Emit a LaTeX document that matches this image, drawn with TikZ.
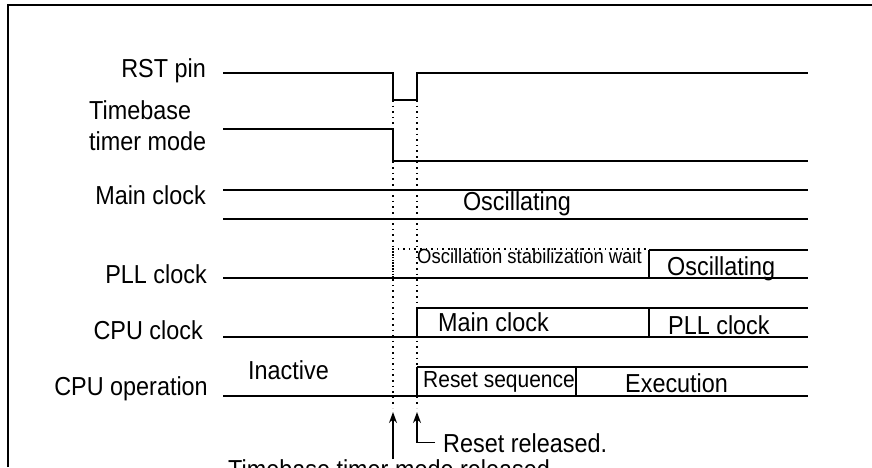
\documentclass[tikz,border=0pt]{standalone}
\usepackage{fontspec}
\setmainfont{Liberation Sans}[FakeStretch=0.9]
\usetikzlibrary{arrows.meta}
\begin{document}
\begin{tikzpicture}[
    x=1pt, y=-1pt,
    sig/.style={line width=2.2pt},
    edge/.style={line width=1.3pt},
    guide/.style={line width=1.6pt, dash pattern=on 1.6pt off 4pt},
    lbl/.style={inner sep=0pt, font=\fontsize{26}{31}\selectfont},
    small/.style={inner sep=0pt, font=\fontsize{20.5}{24}\selectfont},
    arr/.style={line width=1.4pt, -{Stealth[length=11pt, width=8pt]}}
]
\useasboundingbox (0,0) rectangle (872,467);
\draw[line width=2.5pt] (8,467) -- (8,5) -- (872,5);

\node[lbl, anchor=base east] (rst) at (206,77) {RST pin};
\node[lbl, anchor=north west, align=left] (tbm) at (89,100) {Timebase\\timer mode};
\node[lbl, anchor=base east] (mainclk) at (206,204) {Main clock};
\node[lbl, anchor=base east] (pllclk) at (207,283) {PLL clock};
\node[lbl, anchor=base east] (cpuclk) at (203,339) {CPU clock};
\node[lbl, anchor=base east] (cpuop) at (208,395) {CPU operation};

\draw[sig] (223,73) -- (393,73) -- (393,100) -- (417,100) -- (417,73) -- (808,73);
\draw[sig] (223,129) -- (393,129) -- (393,161) -- (808,161);
\draw[sig] (223,190) -- (808,190) (223,219) -- (808,219);
\node[lbl, anchor=base] (osc) at (517,210) {Oscillating};

\draw[sig] (223,278) -- (808,278) (649,250) -- (808,250);
\draw[guide] (393,278) -- (393,249) -- (649,249);
\draw[edge] (649,250) -- (649,278);
\node[small, anchor=base west] (stab) at (417,263) {Oscillation stabilization wait};
\node[lbl, anchor=base west] (pllosc) at (667,275) {Oscillating};

\draw[sig] (223,337) -- (808,337) (417,308) -- (808,308);
\draw[edge] (417,308) -- (417,337) (649,308) -- (649,337);
\node[lbl, anchor=base west] (mainsrc) at (438,331) {Main clock};
\node[lbl, anchor=base west] (pllsrc) at (668,334) {PLL clock};

\draw[sig] (223,396) -- (808,396) (417,367) -- (808,367);
\draw[edge] (417,367) -- (417,396) (576,367) -- (576,396);
\node[lbl, anchor=base west] (inact) at (248,379) {Inactive};
\node[inner sep=0pt, font=\fontsize{23.3}{26}\selectfont, anchor=base west] (rstseq) at (423,387) {Reset sequence};
\node[lbl, anchor=base west] (exec) at (625,392) {Execution};

\draw[guide] (393,100) -- (393,408) (417,100) -- (417,408);
\coordinate (tbrel) at (393,412);
\coordinate (rstrel) at (417,412);
\node[lbl, anchor=base west] (rstdone) at (443,452) {Reset released.};
\node[lbl, anchor=north west] (tbdone) at (228,459) {Timebase timer mode released.};
\draw[arr] (tbdone.north -| tbrel) -- (tbrel);
\draw[arr] ([xshift=-8pt]rstdone.west) -- (rstdone.west -| rstrel) -- (rstrel);
\end{tikzpicture}
\end{document}
